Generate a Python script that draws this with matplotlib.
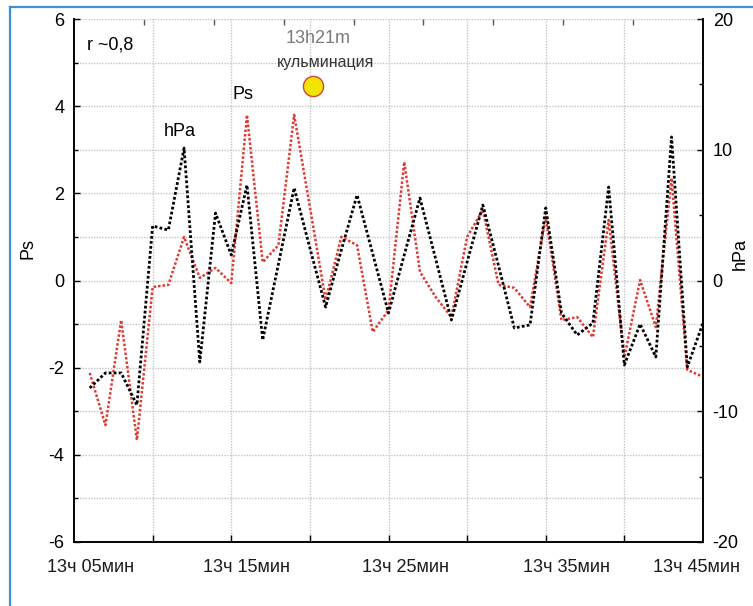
import matplotlib
matplotlib.use('Agg')
import matplotlib.pyplot as plt
from matplotlib.ticker import MultipleLocator, NullFormatter, FixedLocator
from matplotlib.lines import Line2D

# ---- data ----
minutes = list(range(5, 45))  # minutes after 13:00
ps = [-2.12, -3.32, -0.91, -3.66, -0.15, -0.10, 1.00, 0.06, 0.29, -0.06,
      3.80, 0.42, 0.81, 3.80, 1.69, -0.45, 1.00, 0.81, -1.18, -0.68,
      2.72, 0.20, -0.38, -0.84, 1.00, 1.62, -0.10, -0.17, -0.61, 1.46,
      -0.91, -0.84, -1.30, 1.39, -1.76, 0.01, -1.07, 2.35, -2.05, -2.21]
hpa = [-8.22, -7.07, -7.07, -9.52, 4.17, 3.86, 10.13, -6.23, 5.16, 1.95,
       7.30, -4.55, 1.26, 7.08, 2.49, -2.03, 2.33, 6.54, 2.03, -2.49,
       1.95, 6.31, 1.64, -3.02, 1.42, 5.77, 1.11, -3.63, -3.40, 5.55,
       -2.49, -4.17, -3.25, 7.15, -6.46, -3.33, -5.85, 10.98, -6.62, -3.25]
x_labels = ['13ч 05мин', '13ч 15мин', '13ч 25мин', '13ч 35мин', '13ч 45мин']
x_label_pos = [5.05, 15.0, 25.05, 35.3, 43.6]

plt.rcParams['font.family'] = ['Liberation Sans', 'DejaVu Sans']
plt.rcParams['axes.unicode_minus'] = False

W, H = 753, 606
fig = plt.figure(figsize=(W / 100, H / 100), dpi=100)
fig.patch.set_facecolor('white')
ax = fig.add_axes([74 / W, (H - 542) / H, 629 / W, 523 / H])
ax2 = ax.twinx()

grid_kw = dict(color='#c4c4c4', linestyle=(0, (1, 1)), linewidth=1.0)

ax.set_xlim(4, 44)
ax.set_ylim(-6, 6)
ax2.set_ylim(-20, 20)

ax.xaxis.set_major_locator(FixedLocator(list(range(9, 44, 5))))
ax.xaxis.set_major_formatter(NullFormatter())
ax.yaxis.set_major_locator(MultipleLocator(2))
ax.yaxis.set_minor_locator(MultipleLocator(1))
ax2.yaxis.set_major_locator(MultipleLocator(10))
ax2.yaxis.set_minor_locator(MultipleLocator(5))

ax.grid(True, which='major', axis='x', **grid_kw)
ax.grid(True, which='both', axis='y', **grid_kw)
ax.set_axisbelow(True)

ax.tick_params(axis='y', which='both', direction='in', labelsize=13, pad=7,
               length=4, width=1, right=False)
ax.tick_params(axis='y', which='minor', length=3)
ax.tick_params(axis='x', which='both', direction='in', length=5, width=1, top=False)
ax2.tick_params(axis='y', which='both', direction='in', labelsize=13, pad=7,
                length=4, width=1)
ax2.tick_params(axis='y', which='minor', length=3)

for a in (ax, ax2):
    a.spines['top'].set_visible(False)
    for s in ('left', 'right', 'bottom'):
        a.spines[s].set_linewidth(1.2)
        a.spines[s].set_color('black')

# top tick marks (different spacing)
sec = ax.secondary_xaxis('top')
sec.set_xticks([4 + k * 40 / 9 for k in range(1, 9)])
sec.xaxis.set_major_formatter(NullFormatter())
sec.tick_params(direction='in', length=4, width=1, colors='#555555')
sec.spines['top'].set_visible(False)

# series
ax.plot(minutes, ps, color='#de3b33', linestyle=(0, (1, 0.8)), linewidth=1.8,
        zorder=3)
ax2.plot(minutes, hpa, color='black', linestyle=(0, (1, 0.8)), linewidth=2.0,
         zorder=3)

# x labels
for lab, pos in zip(x_labels, x_label_pos):
    ax.text(pos, -25 / 523, lab, transform=ax.get_xaxis_transform(),
            ha='center', va='center', fontsize=13, color='#1a1a1a')

# annotations
ax.text(4.83, 5.40, 'r ~0,8', ha='left', va='center', fontsize=13, color='black')
ax.text(19.55, 5.56, '13h21m', ha='center', va='center', fontsize=13, color='#7a7a7a')
ax.text(19.99, 5.01, 'кульминация', ha='center', va='center', fontsize=11.5,
        color='#333333')
ax.plot([19.2], [4.46], marker='o', markersize=14.5, markerfacecolor='#f2e600',
        markeredgecolor='#d6453a', markeredgewidth=1.0, zorder=5, clip_on=False)
ax.text(14.75, 4.26, 'Ps', ha='center', va='center', fontsize=13, color='black')
ax.text(10.74, 3.43, 'hPa', ha='center', va='center', fontsize=13, color='black')

# axis titles
fig.text(27.5 / W, 1 - 248 / H, 'Ps', rotation=90, ha='center', va='center',
         fontsize=13)
fig.text(740 / W, 1 - 254 / H, 'hPa', rotation=90, ha='center', va='center',
         fontsize=13)

# blue frame
fig.add_artist(Line2D([10 / W, 10 / W], [0, 1 - 7 / H], transform=fig.transFigure,
                      color='#3d8fd6', linewidth=1.6))
fig.add_artist(Line2D([10 / W, 1], [1 - 7 / H, 1 - 7 / H], transform=fig.transFigure,
                      color='#3d8fd6', linewidth=1.6))

fig.savefig('out.png', dpi=100)
